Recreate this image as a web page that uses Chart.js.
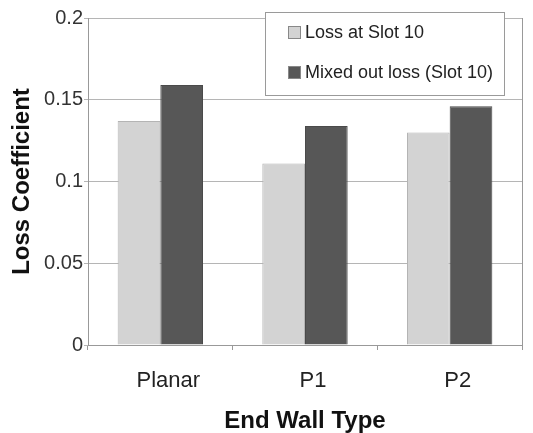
<!DOCTYPE html>
<html>
<head>
<meta charset="utf-8">
<script src="https://cdn.jsdelivr.net/npm/chart.js@4.4.1/dist/chart.umd.min.js"></script>
<style>
  html, body { margin: 0; padding: 0; background: #fff; }
  #wrap { width: 533px; height: 433px; position: relative; }
</style>
</head>
<body>
<div id="wrap"><canvas id="lossChart"></canvas></div>
<script>
// ─── Data ───
const categories = ['Planar', 'P1', 'P2'];
const lossAtSlot = [0.137, 0.111, 0.130];
const mixedOutLoss = [0.159, 0.134, 0.146];
const seriesNames = ['Loss at Slot 10', 'Mixed out loss (Slot 10)'];
const yTicks = [0, 0.05, 0.1, 0.15, 0.2];

const FONT = "'Liberation Sans', Arial, sans-serif";

// ─── Legend box inside the plot (top right) ───
const boxLegend = {
    id: 'boxLegend',
    afterDraw(chart) {
        const { ctx, chartArea } = chart;
        const x = chartArea.right - 257;
        const y = chartArea.top - 6;
        const w = 239, h = 83;
        ctx.save();
        ctx.fillStyle = '#fff';
        ctx.fillRect(x, y, w, h);
        ctx.strokeStyle = '#9a9a9a';
        ctx.lineWidth = 1;
        ctx.strokeRect(x + 0.5, y + 0.5, w, h);
        ctx.font = '18px ' + FONT;
        ctx.textBaseline = 'middle';
        chart.data.datasets.forEach((ds, i) => {
            const cy = y + 20 + i * 40;
            ctx.fillStyle = ds.backgroundColor;
            ctx.fillRect(x + 23, cy - 6, 13, 13);
            ctx.strokeStyle = '#888';
            ctx.strokeRect(x + 23.5, cy - 5.5, 12, 12);
            ctx.fillStyle = '#222';
            ctx.fillText(ds.label, x + 40, cy + 1);
        });
        ctx.restore();
    }
};

const ctx = document.getElementById('lossChart').getContext('2d');
new Chart(ctx, {
    type: 'bar',
    data: {
        labels: categories,
        datasets: [
            {
                label: seriesNames[0],
                data: lossAtSlot,
                backgroundColor: '#d3d3d3',
                borderColor: '#b4b4b4',
                borderWidth: 1
            },
            {
                label: seriesNames[1],
                data: mixedOutLoss,
                backgroundColor: '#575757',
                borderColor: '#4a4a4a',
                borderWidth: 1
            }
        ]
    },
    options: {
        responsive: true,
        maintainAspectRatio: false,
        animation: false,
        layout: { padding: { top: 18, right: 11, left: 0, bottom: 0 } },
        datasets: { bar: { barPercentage: 1, categoryPercentage: 0.59 } },
        plugins: {
            legend: { display: false },
            tooltip: { enabled: false }
        },
        scales: {
            x: {
                grid: { drawOnChartArea: false, tickLength: 5, color: '#999' },
                border: { color: '#999' },
                ticks: {
                    color: '#222',
                    padding: 18,
                    labelOffset: 8,
                    font: { family: FONT, size: 22 }
                },
                title: {
                    display: true,
                    text: 'End Wall Type',
                    color: '#111',
                    font: { family: FONT, size: 24, weight: 'bold', lineHeight: 1.0 },
                    padding: { top: 0, bottom: 0 }
                },
                afterFit: (s) => { s.height = 88; }
            },
            y: {
                min: 0,
                max: 0.2,
                afterBuildTicks: (s) => { s.ticks = yTicks.map(v => ({ value: v })); },
                grid: { color: '#b5b5b5', tickLength: 4 },
                border: { color: '#999' },
                ticks: {
                    color: '#333',
                    padding: 1,
                    font: { family: FONT, size: 20 },
                    callback: (v) => String(v)
                },
                title: {
                    display: true,
                    text: 'Loss Coefficient',
                    color: '#111',
                    font: { family: FONT, size: 24, weight: 'bold' },
                    padding: { top: 8, bottom: 0 }
                },
                afterFit: (s) => { s.width = 88; }
            },
            y2: {
                position: 'right',
                ticks: { display: false },
                grid: { display: false },
                border: { color: '#999' },
                afterFit: (s) => { s.width = 0; }
            }
        }
    },
    plugins: [boxLegend]
});
</script>
</body>
</html>
